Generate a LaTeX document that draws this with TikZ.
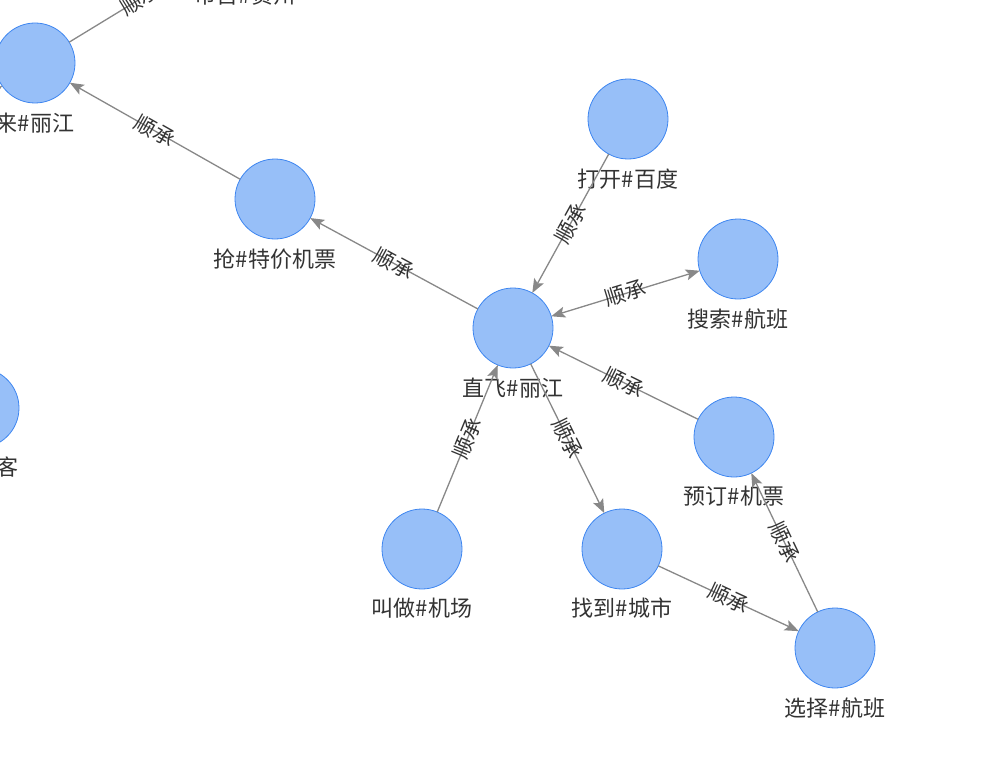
\documentclass[tikz,border=0pt]{standalone}
\usepackage{fontspec}
\setmainfont{Noto Sans CJK SC}
\usetikzlibrary{arrows.meta}
\definecolor{nodefill}{HTML}{97BFF8}
\definecolor{nodeline}{HTML}{3E86F0}
\definecolor{edgec}{HTML}{888888}
\definecolor{txtc}{HTML}{333333}
\begin{document}
\begin{tikzpicture}[x=1pt,y=-1pt,
 ent/.style={circle,fill=nodefill,draw=nodeline,line width=0.8pt,minimum size=80pt,inner sep=0pt,outer sep=0pt},
 ntext/.style={text=txtc,font=\fontsize{22}{22}\selectfont,inner sep=0pt},
 rel/.style={draw=edgec,line width=1.3pt,-{Stealth[length=14pt,width=11pt,inset=3pt]}},
 birel/.style={draw=edgec,line width=1.3pt,{Stealth[length=14pt,width=11pt,inset=3pt]}-{Stealth[length=14pt,width=11pt,inset=3pt]}},
 rlab/.style={text=txtc,font=\fontsize{21}{21}\selectfont,sloped,inner sep=0pt,midway}]
\clip (0,0) rectangle (981,757);
% nodes
\node[ent] (gz) at (245,-65) {};
\node[ent] (lai) at (35,63) {};
\node[ent] (qiang) at (275,199) {};
\node[ent] (zhifei) at (513,328) {};
\node[ent] (dakai) at (628,119) {};
\node[ent] (sousuo) at (738,259) {};
\node[ent] (yuding) at (734,437) {};
\node[ent] (jiaozuo) at (422,549) {};
\node[ent] (zhaodao) at (622,549) {};
\node[ent] (xuanze) at (835,648) {};
\node[ent] (ke) at (-21,408) {};
\coordinate (src) at (-130,178);
% node texts
\node[ntext] (gz-t) at (245,-5) {市首\#贵州};
\node[ntext] (lai-t) at (35,123) {来\#丽江};
\node[ntext] (qiang-t) at (275,259) {抢\#特价机票};
\node[ntext] (zhifei-t) at (513,388) {直飞\#丽江};
\node[ntext] (dakai-t) at (628,179) {打开\#百度};
\node[ntext] (sousuo-t) at (738,319) {搜索\#航班};
\node[ntext] (yuding-t) at (734,496) {预订\#机票};
\node[ntext] (jiaozuo-t) at (422,608) {叫做\#机场};
\node[ntext] (zhaodao-t) at (622,608) {找到\#城市};
\node[ntext] (xuanze-t) at (835,708) {选择\#航班};
\node[ntext] (ke-t) at (-21,467) {是\#乘客};
% edges
\draw[rel] (lai) -- node[rlab] {顺承} (gz);
\draw[rel] (src) -- (lai);
\draw[rel] (qiang) -- node[rlab] {顺承} (lai);
\draw[rel] (zhifei) -- node[rlab] {顺承} (qiang);
\draw[rel] (dakai) -- node[rlab] {顺承} (zhifei);
\draw[birel] (zhifei) -- node[rlab] {顺承} (sousuo);
\draw[rel] (yuding) -- node[rlab] {顺承} (zhifei);
\draw[rel] (jiaozuo) -- node[rlab] {顺承} (zhifei);
\draw[rel] (zhifei) -- node[rlab] {顺承} (zhaodao);
\draw[rel] (zhaodao) -- node[rlab] {顺承} (xuanze);
\draw[rel] (xuanze) -- node[rlab] {顺承} (yuding);
\end{tikzpicture}
\end{document}
